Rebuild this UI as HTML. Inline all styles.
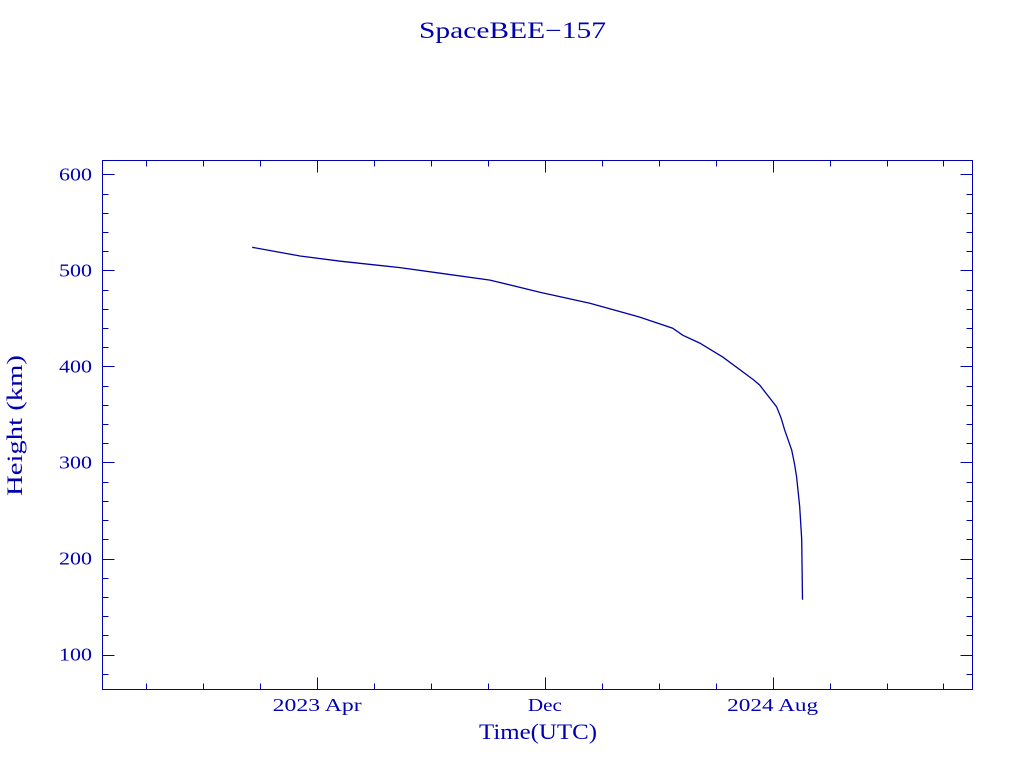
<!DOCTYPE html>
<html><head><meta charset="utf-8"><style>
html,body{margin:0;padding:0;background:#fff;}
svg text{font-family:"Liberation Serif",serif;fill:#0000b0;}
</style></head><body>
<svg id="chart" width="1024" height="768" xmlns="http://www.w3.org/2000/svg">
<text x="419" y="38" font-size="23" textLength="187" lengthAdjust="spacingAndGlyphs">SpaceBEE−157</text>
<rect x="102.5" y="160.5" width="870" height="529" fill="none" stroke="#0000b0" stroke-width="1"/>
<g id="ticks"></g>
<text x="479" y="739" font-size="22" textLength="118" lengthAdjust="spacingAndGlyphs">Time(UTC)</text>
<text transform="translate(22,496) rotate(-90)" font-size="22" textLength="141" lengthAdjust="spacingAndGlyphs">Height (km)</text>
<path id="series" fill="none" stroke="#0000a0" stroke-width="1.3"/>
</svg>
<script>
// months since 2023 Jan (0 = Jan 2023)
const months = [0.72,2.40,3.81,5.91,7.32,9.07,10.82,12.58,14.33,15.49,15.84,16.44,17.25,18.33,18.54,19.14,19.30,19.42,19.67,19.77,19.84,19.95,20.02,20.05];
const heights = [524.1,515,509.6,503,497.1,489.9,477.3,465.9,451.4,439.9,432.6,424.3,409.8,386,380.7,358,346,334,313,298,285,254,220,157];
const yTicks = [100,200,300,400,500,600];
const xTickMonths = [3,11,19];
const xTickLabels = ["2023 Apr","Dec","2024 Aug"];
const xTickLabelWidths = [89,34,91];

const L=102.5,R=972.5,T=160.5,B=689.5;
const xMin=-4.54,xMax=26.02,yMin=63.6,yMax=614.5;
const xs=m=>L+(m-xMin)/(xMax-xMin)*(R-L);
const ys=v=>B-(v-yMin)/(yMax-yMin)*(B-T);
const NS="http://www.w3.org/2000/svg";
const g=document.getElementById('ticks');
function line(x1,y1,x2,y2,name){
  const l=document.createElementNS(NS,'line');
  l.setAttribute('x1',x1);l.setAttribute('y1',y1);l.setAttribute('x2',x2);l.setAttribute('y2',y2);
  l.setAttribute('stroke','#0000b0');l.setAttribute('stroke-width','1');
  
  
  g.appendChild(l);
}
function text(x,y,s,w,name){
  const t=document.createElementNS(NS,'text');
  t.setAttribute('x',x);t.setAttribute('y',y);t.setAttribute('font-size','18');
  t.setAttribute('textLength',w);t.setAttribute('lengthAdjust','spacingAndGlyphs');
  t.textContent=s;
  
  
  g.appendChild(t);
}
for(let v=80;v<=600;v+=20){
  const y=Math.round(ys(v))+0.5, major=(v%100===0), len=major?12:6;
  line(L,y,L+len,y,'y-tick');
  line(R,y,R-len,y,'y-tick-right');
}
yTicks.forEach(v=>{text(59,ys(v)+6,String(v),33,'y-tick-label');});
for(let m=-3;m<=25;m+=2){
  const x=Math.round(xs(m))+0.5, major=xTickMonths.includes(m), len=major?12:6;
  line(x,B,x,B-len,'x-tick');
  line(x,T,x,T+len,'x-tick-top');
}
xTickMonths.forEach((m,i)=>{text(xs(m)-xTickLabelWidths[i]/2,711,xTickLabels[i],xTickLabelWidths[i],'x-tick-label');});
let d='';
months.forEach((m,i)=>{d+=(i?'L':'M')+xs(m).toFixed(1)+','+ys(heights[i]).toFixed(1);});
document.getElementById('series').setAttribute('d',d);
</script>
</body></html>
